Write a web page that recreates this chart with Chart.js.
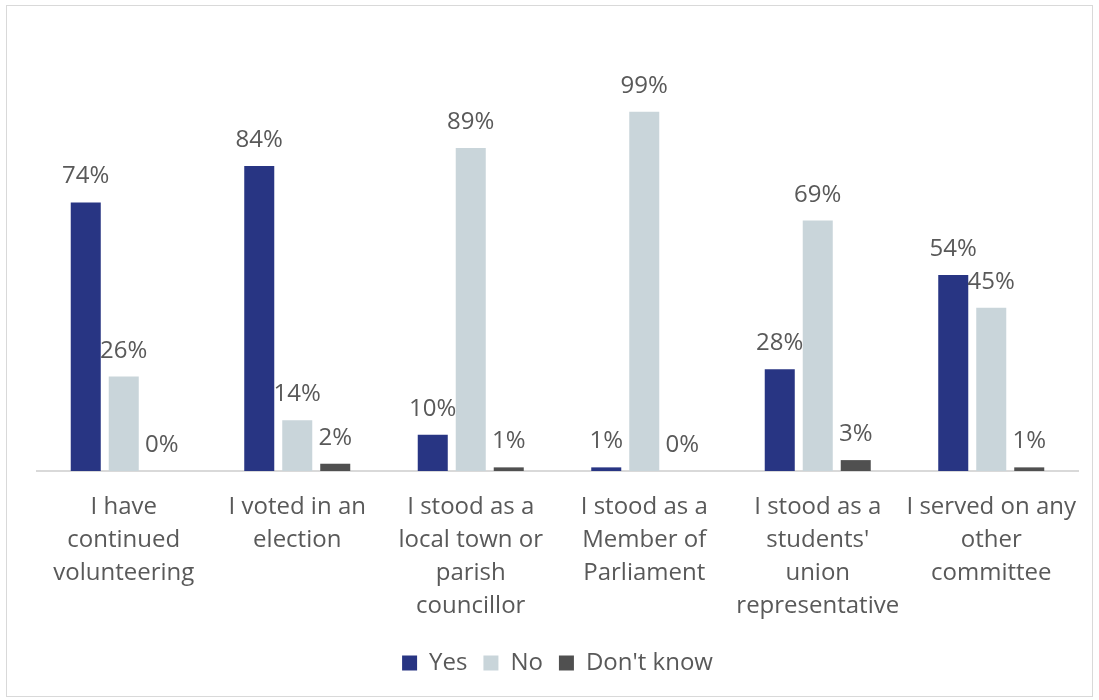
<!DOCTYPE html>
<html>
<head>
<meta charset="utf-8">
<script src="https://cdn.jsdelivr.net/npm/chart.js@4/dist/chart.umd.min.js"></script>
<style>
  html, body { margin: 0; padding: 0; background: #ffffff; }
  #frame {
    position: absolute; left: 6px; top: 5px;
    width: 1085px; height: 690px;
    border: 1px solid #d9d9d9; background: #ffffff;
  }
  #chart { display: block; }
</style>
</head>
<body>
<div id="frame"><canvas id="chart" width="1085" height="690"></canvas></div>
<script>
// Survey categories (multi-line axis labels)
const categories = [
  ["I have", "continued", "volunteering"],
  ["I voted in an", "election"],
  ["I stood as a", "local town or", "parish", "councillor"],
  ["I stood as a", "Member of", "Parliament"],
  ["I stood as a", "students'", "union", "representative"],
  ["I served on any", "other", "committee"]
];
// Percent of respondents per answer
const yesValues = [74, 84, 10, 1, 28, 54];
const noValues = [26, 14, 89, 99, 69, 45];
const dontKnowValues = [0, 2, 1, 0, 3, 1];

const seriesNames = ["Yes", "No", "Don't know"];
const seriesColors = ["#283583", "#c9d5da", "#505050"];

const FONT = "'Open Sans', 'Noto Sans', sans-serif";
const TEXT = "#595959";

// Writes each bar's value above it
const valueLabels = {
  id: "valueLabels",
  afterDatasetsDraw(chart) {
    const ctx = chart.ctx;
    ctx.save();
    ctx.font = "24px " + FONT;
    ctx.fillStyle = TEXT;
    ctx.textAlign = "center";
    ctx.textBaseline = "alphabetic";
    chart.data.datasets.forEach((ds, i) => {
      const meta = chart.getDatasetMeta(i);
      meta.data.forEach((bar, j) => {
        ctx.fillText(ds.data[j] + "%", bar.x, bar.y - 19);
      });
    });
    ctx.restore();
  }
};

new Chart(document.getElementById("chart"), {
  type: "bar",
  data: {
    labels: categories,
    datasets: [yesValues, noValues, dontKnowValues].map((vals, i) => ({
      label: seriesNames[i],
      data: vals,
      backgroundColor: seriesColors[i],
      borderWidth: 0,
      categoryPercentage: 0.657,
      barPercentage: 0.79
    }))
  },
  options: {
    responsive: false,
    animation: false,
    devicePixelRatio: 1,
    layout: { padding: { left: 30, right: 14, top: 102, bottom: 11 } },
    plugins: {
      tooltip: { enabled: false },
      legend: {
        position: "bottom",
        labels: {
          font: { family: FONT, size: 24 },
          color: TEXT,
          boxWidth: 15,
          boxHeight: 15,
          padding: 16
        }
      }
    },
    scales: {
      x: {
        grid: { display: false, drawTicks: false },
        border: { display: true, color: "#d9d9d9", width: 2 },
        ticks: {
          font: { family: FONT, size: 24, lineHeight: 1.375 },
          color: TEXT,
          padding: 20,
          maxRotation: 0,
          autoSkip: false
        },
        afterFit(scale) {
          scale.height = 164;
          scale.paddingLeft = 0;
          scale.paddingRight = 0;
        }
      },
      y: {
        display: false,
        min: 0,
        max: 100
      }
    }
  },
  plugins: [valueLabels]
});
</script>
</body>
</html>
